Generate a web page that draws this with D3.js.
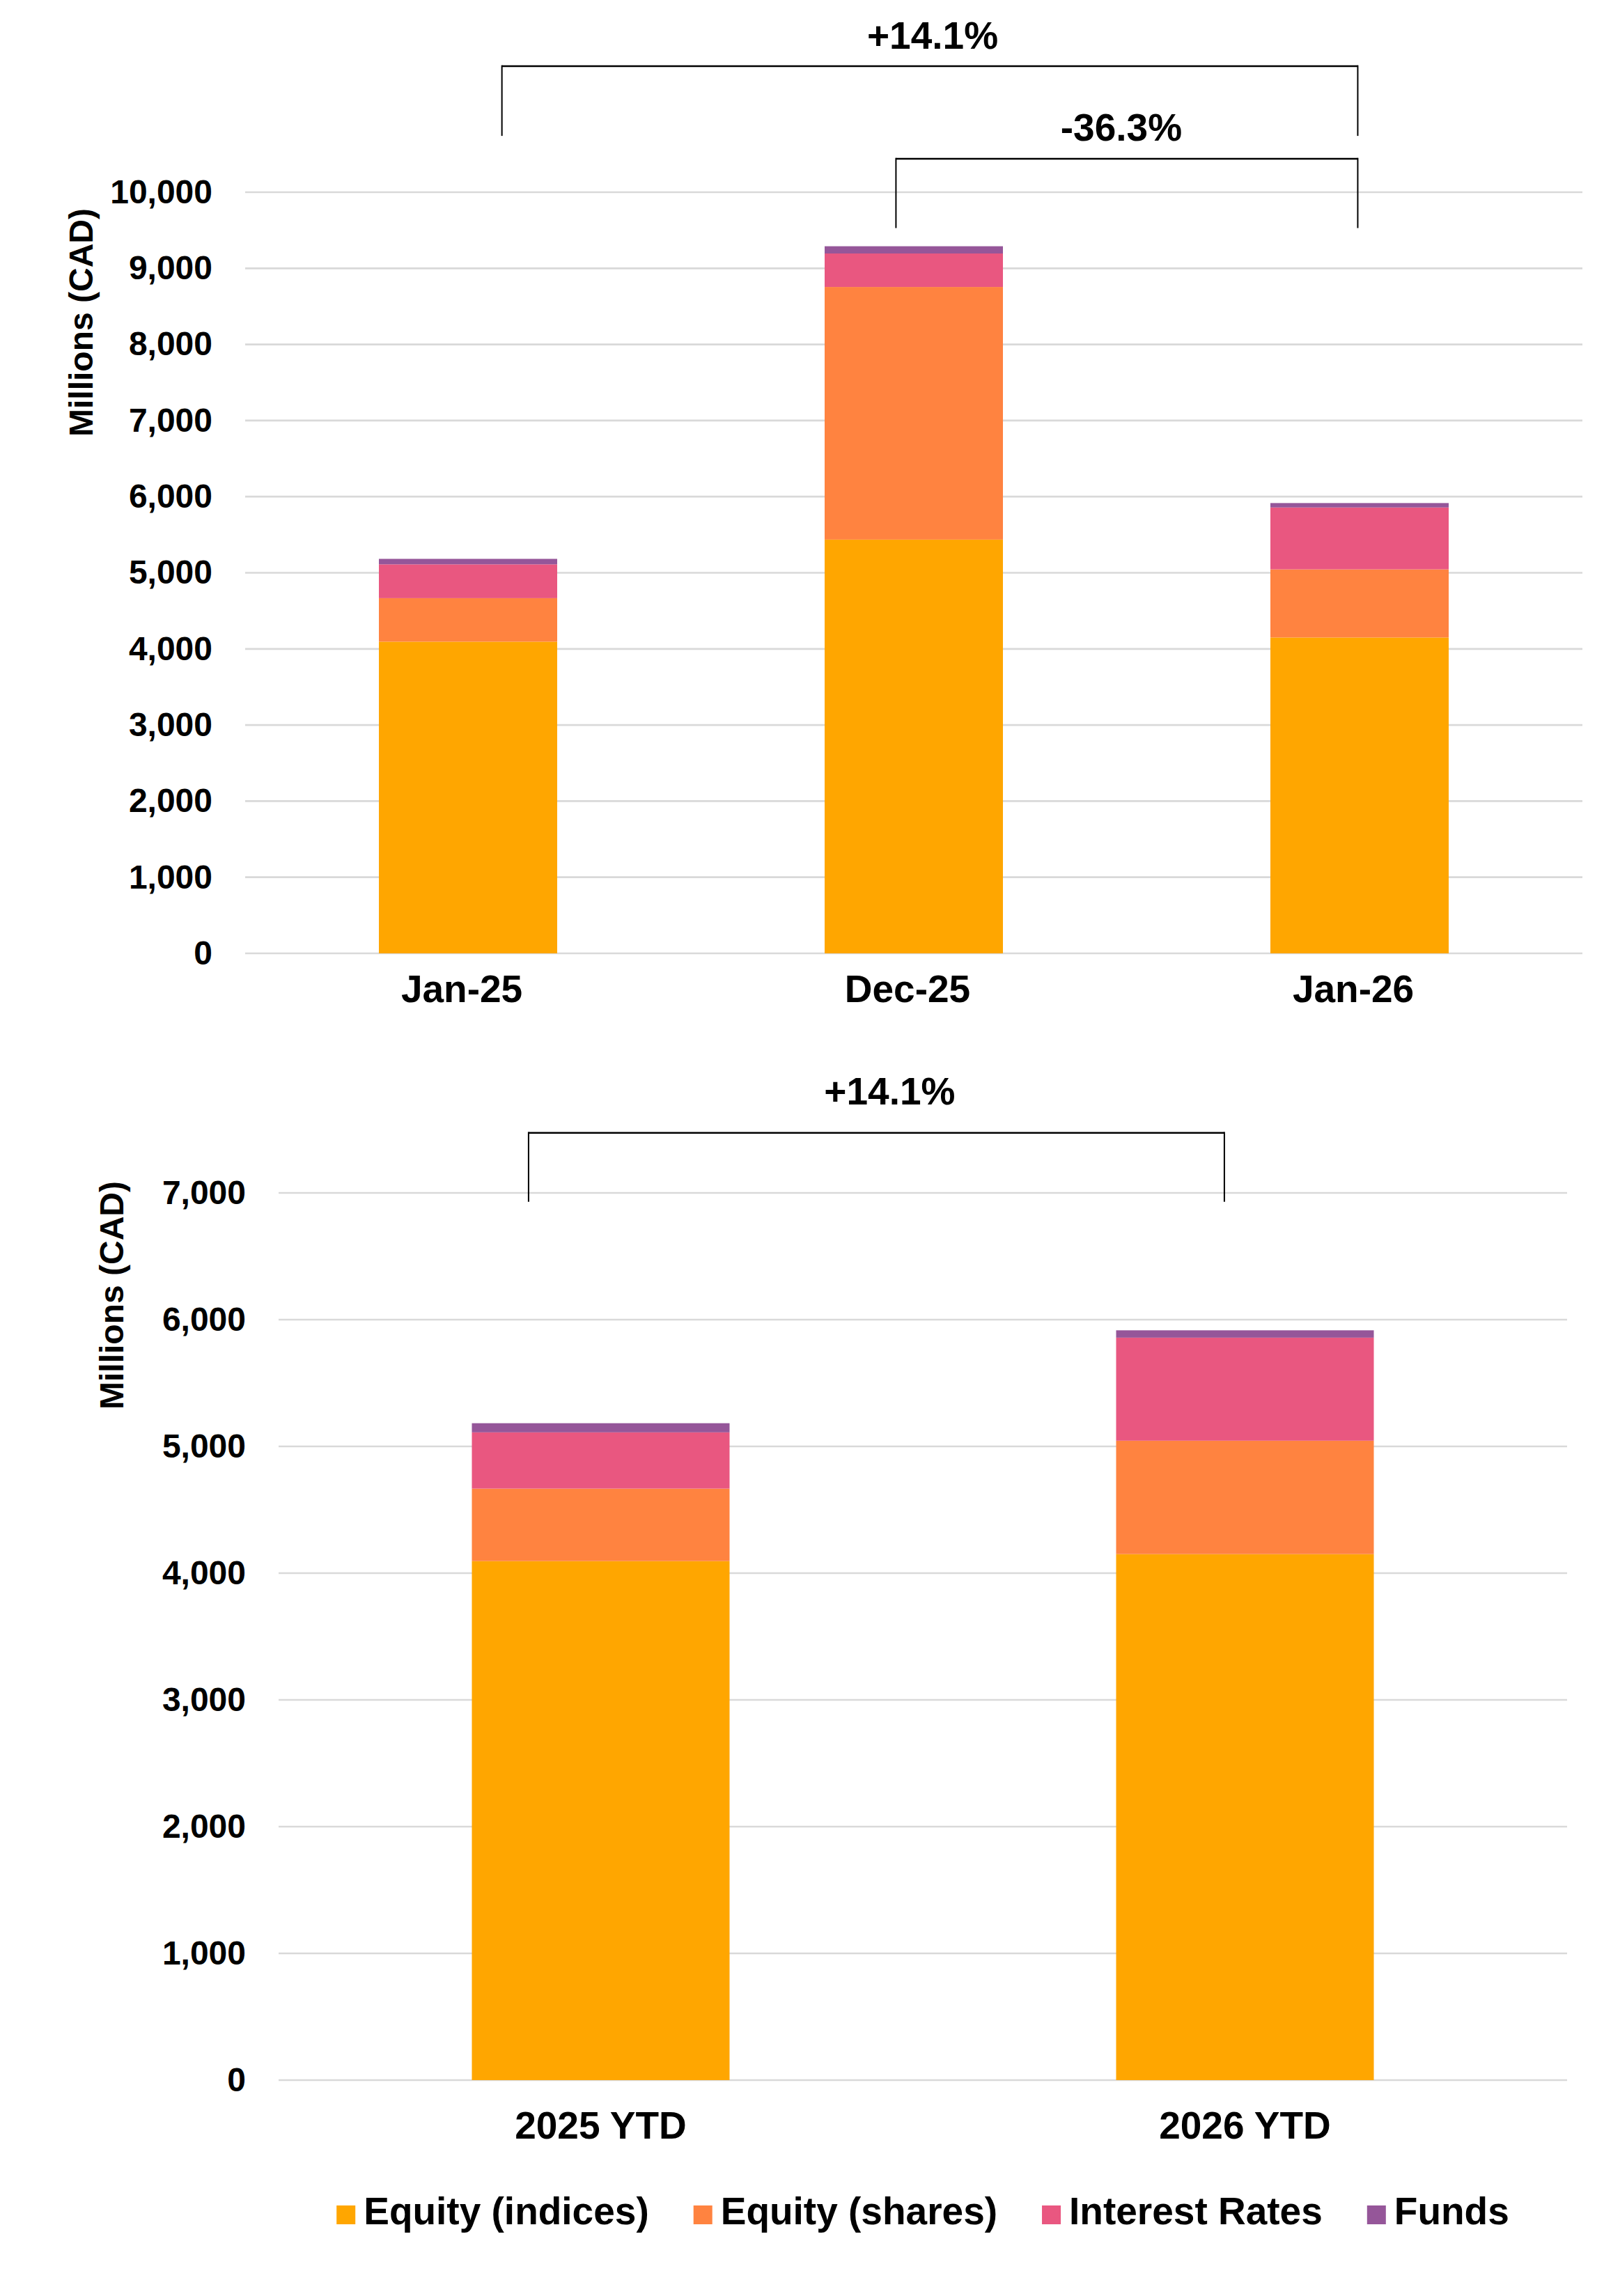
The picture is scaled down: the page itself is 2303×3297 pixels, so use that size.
<!DOCTYPE html>
<html>
<head>
<meta charset="utf-8">
<script src="https://cdn.jsdelivr.net/npm/d3@7"></script>
<style>
  html, body { margin: 0; padding: 0; background: #fff; }
  svg { display: block; }
  text { font-family: "Liberation Sans", Arial, sans-serif; font-weight: bold; fill: #000; }
</style>
</head>
<body>
<script>
// ---------------- DATA ----------------
const monthCats = ["Jan-25", "Dec-25", "Jan-26"];
const ytdCats = ["2025 YTD", "2026 YTD"];
const seriesNames = ["Equity (indices)", "Equity (shares)", "Interest Rates", "Funds"];

// Millions CAD
const monthIndices = [4095, 5436, 4150];
const monthShares  = [572, 3319, 895];
const monthRates   = [444, 440, 813];
const monthFunds   = [72, 95, 58];

const ytdIndices = [4095, 4150];
const ytdShares  = [572, 895];
const ytdRates   = [444, 813];
const ytdFunds   = [72, 58];

const monthTicks = [0, 1000, 2000, 3000, 4000, 5000, 6000, 7000, 8000, 9000, 10000];
const ytdTicks = [0, 1000, 2000, 3000, 4000, 5000, 6000, 7000];

const monthChanges = [
  { from: "Jan-25", to: "Jan-26", label: "+14.1%" },
  { from: "Dec-25", to: "Jan-26", label: "-36.3%" }
];
const ytdChanges = [
  { from: "2025 YTD", to: "2026 YTD", label: "+14.1%" }
];

// ---------------- STYLE ----------------
const colors = ["#FFA600", "#FF8340", "#E95780", "#955699"];
const W = 2303, H = 3297;

const svg = d3.select("body").append("svg")
  .attr("width", W).attr("height", H)
  .attr("viewBox", `0 0 ${W} ${H}`);

function buildRows(cats, arrs) {
  return cats.map((c, i) => {
    const r = { cat: c };
    seriesNames.forEach((s, k) => r[s] = arrs[k][i]);
    return r;
  });
}

function drawChart(opt) {
  const g = svg.append("g");
  const x = d3.scaleBand().domain(opt.cats).range(opt.xRange)
    .paddingInner(0.6).paddingOuter(0.3);
  const y = d3.scaleLinear().domain([0, opt.max]).range(opt.yRange);

  // gridlines
  g.append("g").selectAll("line").data(opt.ticks).join("line")
    .attr("x1", opt.xRange[0]).attr("x2", opt.xRange[1])
    .attr("y1", d => y(d)).attr("y2", d => y(d))
    .attr("stroke", "#D9D9D9").attr("stroke-width", 2.7);

  // y axis labels
  const ya = g.append("g").attr("transform", `translate(${opt.xRange[0]},0)`)
    .call(d3.axisLeft(y).tickValues(opt.ticks).tickFormat(d3.format(",")).tickSize(0).tickPadding(47));
  ya.select(".domain").remove();
  ya.selectAll("text").attr("font-size", 48);
  ya.attr("font-family", null);

  // x axis labels
  const xa = g.append("g").attr("transform", `translate(0,${opt.yRange[0]})`)
    .call(d3.axisBottom(x).tickSize(0).tickPadding(opt.xPad));
  xa.select(".domain").remove();
  xa.selectAll("text").attr("font-size", 55).attr("dx", opt.xdx);
  xa.attr("font-family", null);

  // stacked bars
  const rows = buildRows(opt.cats, opt.data);
  const stack = d3.stack().keys(seriesNames)(rows);
  g.append("g").selectAll("g").data(stack).join("g")
    .attr("fill", (d, i) => colors[i])
    .selectAll("rect").data(d => d).join("rect")
    .attr("x", d => x(d.data.cat))
    .attr("width", x.bandwidth())
    .attr("y", d => y(d[1]))
    .attr("height", d => y(d[0]) - y(d[1]));

  // y title
  g.append("text")
    .attr("transform", `translate(${opt.titleX},${opt.titleY}) rotate(-90)`)
    .attr("text-anchor", "middle").attr("dominant-baseline", "central")
    .attr("font-size", 48).text("Millions (CAD)");

  // change brackets
  opt.changes.forEach((c, i) => {
    const a = opt.annot[i];
    const x1 = x(c.from) + x.bandwidth() * a.f1;
    const x2 = x(c.to) + x.bandwidth() * a.f2;
    const yTop = y(a.top), yLeg = y(a.leg);
    const b = g.append("g");
    b.append("line").attr("x1", x1).attr("x2", x2).attr("y1", yTop).attr("y2", yTop)
      .attr("stroke", "#000").attr("stroke-width", 2.7);
    [x1, x2].forEach(xx => b.append("line")
      .attr("x1", xx).attr("x2", xx).attr("y1", yTop - 1.3).attr("y2", yLeg)
      .attr("stroke", "#000").attr("stroke-width", 2));
    b.append("text").attr("x", (x1 + x2) / 2 + a.dx).attr("y", y(a.lab))
      .attr("text-anchor", "middle").attr("dominant-baseline", "central")
      .attr("font-size", 55).text(c.label);
  });
  return { x, y };
}

drawChart({
  cats: monthCats,
  data: [monthIndices, monthShares, monthRates, monthFunds],
  xRange: [352, 2272], yRange: [1369, 276], max: 10000, ticks: monthTicks,
  xPad: 31, xdx: -9, titleX: 116, titleY: 463,
  changes: monthChanges,
  annot: [
    { f1: 0.69, f2: 0.49, top: 11656, leg: 10740, lab: 12060, dx: 4 },
    { f1: 0.40, f2: 0.49, top: 10439, leg: 9529, lab: 10855, dx: -8 }
  ]
});

drawChart({
  cats: ytdCats,
  data: [ytdIndices, ytdShares, ytdRates, ytdFunds],
  xRange: [400, 2250], yRange: [2987, 1713], max: 7000, ticks: ytdTicks,
  xPad: 45, xdx: 0, titleX: 160, titleY: 1860,
  changes: ytdChanges,
  annot: [
    { f1: 0.22, f2: 0.42, top: 7474, leg: 6930, lab: 7800, dx: 19 }
  ]
});

// legend
const leg = svg.append("g");
const items = leg.selectAll("g").data(seriesNames).join("g");
items.append("rect").attr("width", 27).attr("height", 27).attr("y", -27)
  .attr("fill", (d, i) => colors[i]);
items.append("text").attr("x", 39).attr("y", 0).attr("font-size", 55).text(d => d);
let cx = 0;
items.each(function() {
  const gnode = d3.select(this);
  const w = 39 + gnode.select("text").node().getComputedTextLength();
  gnode.attr("transform", `translate(${cx},0)`);
  cx += w + 64;
});
const totalW = cx - 64;
leg.attr("transform", `translate(${1325 - totalW / 2},3194)`);
</script>
</body>
</html>
